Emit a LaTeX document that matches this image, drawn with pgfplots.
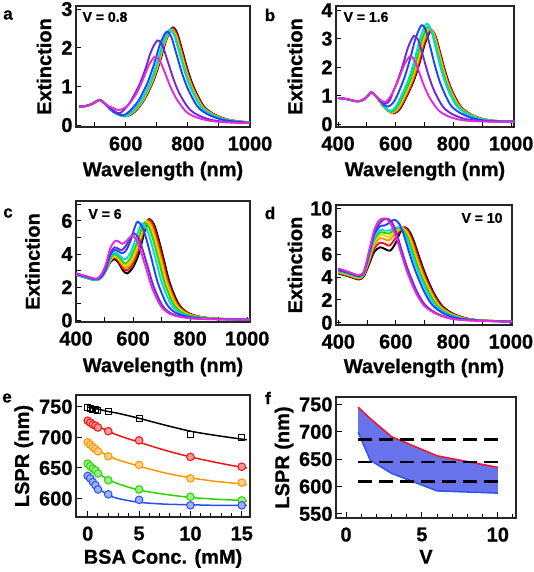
\documentclass[border=0pt]{standalone}
\usepackage{pgfplots}
\pgfplotsset{compat=1.18}
\usepackage{fontspec}
\setmainfont{Liberation Sans}[BoldFeatures={FakeBold=0.8}]

\definecolor{cK}{RGB}{0,0,0}
\definecolor{cR}{RGB}{240,20,20}
\definecolor{cO}{RGB}{255,150,0}
\definecolor{cY}{RGB}{235,215,0}
\definecolor{cG}{RGB}{40,215,0}
\definecolor{cC}{RGB}{0,215,235}
\definecolor{cB}{RGB}{30,70,245}
\definecolor{cV}{RGB}{110,40,225}
\definecolor{cM}{RGB}{225,45,215}
\definecolor{eB}{RGB}{40,80,240}
\definecolor{fillc}{RGB}{105,115,235}
\definecolor{fR}{RGB}{240,20,50}
\definecolor{fB}{RGB}{50,85,240}

\pgfplotsset{
 panel/.style={scale only axis, anchor=north west, tick pos=left, tick align=inside,
   axis line style={line width=1.4pt, black!85},
   tick style={line width=1pt, black},
   major tick length=5pt, minor tick length=5pt,
   tick label style={font=\bfseries\fontsize{20}{20}\selectfont},
   xticklabel style={yshift=-6pt},
   label style={font=\bfseries\fontsize{20}{20}\selectfont},
   xlabel style={anchor=center}, ylabel style={anchor=center},
   /pgf/number format/assume math mode=true,
   /pgf/number format/1000 sep={}},
 sp/.style={line width=1.9pt, smooth},
}

\begin{document}
\begin{tikzpicture}
\useasboundingbox (0,0) rectangle (534pt,-572pt);

% ---------------- a ----------------
\begin{axis}[panel, at={(76pt,-6pt)}, width=174pt, height=121pt,
 xmin=440, xmax=1000, ymin=-0.05, ymax=3.08,
 xtick={600,800,1000}, minor xtick={500,700,900}, ytick={0,1,2,3},
 xlabel={Wavelength (nm)}, ylabel={Extinction},
 xlabel style={at={(axis description cs:0.5,-0.364)}},
 ylabel style={at={(axis description cs:-0.184,0.5)}}]
\addplot[sp,cK] coordinates {(450,0.48)(470,0.49)(490,0.54)(505,0.61)(515,0.65)(525,0.61)(540,0.5)(560,0.34)(600,0.23)(630,0.35)(660,0.66)(690,1.16)(710,1.64)(730,2.19)(750,2.52)(765,2.39)(780,1.99)(800,1.41)(820,0.96)(850,0.50)(880,0.30)(920,0.16)(960,0.10)(1000,0.07)};
\addplot[sp,cR] coordinates {(450,0.48)(470,0.49)(490,0.54)(505,0.61)(515,0.65)(525,0.61)(540,0.5)(560,0.34)(598,0.23)(628,0.35)(658,0.65)(688,1.15)(708,1.63)(728,2.18)(748,2.50)(763,2.38)(778,1.98)(798,1.40)(818,0.95)(848,0.50)(878,0.30)(918,0.16)(958,0.10)(1000,0.07)};
\addplot[sp,cO] coordinates {(450,0.48)(470,0.49)(490,0.54)(505,0.61)(515,0.65)(525,0.61)(540,0.5)(560,0.34)(597,0.23)(626,0.35)(656,0.64)(686,1.14)(706,1.61)(726,2.15)(746,2.47)(761,2.35)(776,1.95)(796,1.38)(816,0.94)(846,0.49)(876,0.30)(916,0.16)(956,0.10)(1000,0.07)};
\addplot[sp,cY] coordinates {(450,0.48)(470,0.49)(490,0.54)(505,0.61)(515,0.65)(525,0.61)(540,0.5)(560,0.34)(596,0.23)(624,0.35)(654,0.64)(684,1.13)(704,1.59)(724,2.13)(744,2.45)(759,2.33)(774,1.94)(794,1.37)(814,0.93)(844,0.49)(874,0.29)(914,0.16)(954,0.10)(1000,0.06)};
\addplot[sp,cG] coordinates {(450,0.48)(470,0.49)(490,0.54)(505,0.61)(515,0.65)(525,0.61)(540,0.5)(560,0.34)(595,0.23)(622,0.35)(652,0.64)(682,1.13)(702,1.59)(722,2.13)(742,2.45)(757,2.33)(772,1.94)(792,1.37)(812,0.93)(842,0.49)(872,0.29)(912,0.16)(952,0.10)(1000,0.06)};
\addplot[sp,cC] coordinates {(450,0.48)(470,0.49)(490,0.54)(505,0.61)(515,0.65)(525,0.61)(540,0.5)(560,0.34)(594,0.23)(620,0.35)(650,0.64)(680,1.13)(700,1.6)(720,2.14)(740,2.46)(755,2.34)(770,1.94)(790,1.38)(810,0.93)(840,0.49)(870,0.29)(910,0.16)(950,0.10)(1000,0.06)};
\addplot[sp,cB] coordinates {(450,0.48)(470,0.49)(490,0.54)(505,0.61)(515,0.65)(525,0.61)(540,0.5)(560,0.35)(590,0.25)(611,0.35)(641,0.63)(671,1.11)(691,1.57)(711,2.10)(731,2.41)(746,2.29)(761,1.90)(781,1.35)(801,0.92)(831,0.48)(861,0.29)(901,0.16)(941,0.10)(1000,0.06)};
\addplot[sp,cV] coordinates {(450,0.48)(470,0.49)(490,0.54)(505,0.61)(515,0.65)(525,0.61)(540,0.5)(560,0.38)(582,0.31)(612,0.57)(642,1.01)(662,1.42)(682,1.91)(702,2.19)(717,2.08)(732,1.73)(752,1.23)(772,0.83)(802,0.44)(832,0.26)(872,0.14)(912,0.09)(952,0.07)(1000,0.05)};
\addplot[sp,cM] coordinates {(450,0.48)(470,0.49)(490,0.54)(505,0.61)(515,0.65)(525,0.61)(540,0.51)(560,0.44)(577,0.39)(604,0.48)(634,0.81)(654,1.15)(674,1.54)(694,1.77)(709,1.68)(724,1.40)(744,0.99)(764,0.67)(794,0.35)(824,0.21)(864,0.12)(904,0.08)(950,0.06)(1000,0.05)};
\end{axis}

% ---------------- b ----------------
\begin{axis}[panel, at={(336pt,-6pt)}, width=178pt, height=121pt,
 xmin=393, xmax=1010, ymin=-0.1, ymax=4.15,
 xtick={400,600,800,1000}, minor xtick={500,700,900}, ytick={0,1,2,3,4},
 xlabel={Wavelength (nm)}, ylabel={Extinction},
 xlabel style={at={(axis description cs:0.5,-0.364)}},
 ylabel style={at={(axis description cs:-0.23,0.5)}}]
\addplot[sp,cK] coordinates {(400,0.92)(430,0.88)(460,0.81)(480,0.82)(500,0.95)(515,1.12)(530,1.0)(550,0.72)(570,0.5)(592,0.38)(612,0.5)(632,0.85)(662,1.51)(682,2.13)(702,2.85)(722,3.28)(737,3.12)(752,2.59)(772,1.84)(792,1.25)(822,0.66)(852,0.39)(892,0.21)(932,0.13)(972,0.1)(1010,0.09)};
\addplot[sp,cR] coordinates {(400,0.92)(430,0.88)(460,0.81)(480,0.82)(500,0.95)(515,1.12)(530,1.0)(550,0.73)(570,0.5)(590,0.39)(610,0.51)(630,0.86)(660,1.52)(680,2.15)(700,2.87)(720,3.30)(735,3.14)(750,2.61)(770,1.85)(790,1.25)(820,0.66)(850,0.40)(890,0.21)(930,0.13)(970,0.1)(1010,0.09)};
\addplot[sp,cO] coordinates {(400,0.92)(430,0.88)(460,0.81)(480,0.82)(500,0.95)(515,1.12)(530,1.0)(550,0.73)(570,0.51)(588,0.40)(607,0.52)(627,0.87)(657,1.54)(677,2.18)(697,2.91)(717,3.35)(732,3.18)(747,2.65)(767,1.88)(787,1.27)(817,0.67)(847,0.40)(887,0.22)(927,0.13)(967,0.1)(1010,0.09)};
\addplot[sp,cY] coordinates {(400,0.92)(430,0.88)(460,0.81)(480,0.82)(500,0.95)(515,1.12)(530,1.0)(550,0.74)(570,0.52)(586,0.42)(604,0.53)(624,0.88)(654,1.55)(674,2.2)(694,2.94)(714,3.38)(729,3.21)(744,2.67)(764,1.89)(784,1.28)(814,0.68)(844,0.4)(884,0.22)(924,0.13)(964,0.1)(1010,0.09)};
\addplot[sp,cG] coordinates {(400,0.92)(430,0.88)(460,0.81)(480,0.82)(500,0.95)(515,1.12)(530,1.0)(550,0.75)(568,0.53)(585,0.43)(601,0.54)(621,0.89)(651,1.57)(671,2.22)(691,2.98)(711,3.42)(726,3.25)(741,2.70)(761,1.92)(781,1.30)(811,0.68)(841,0.41)(881,0.22)(921,0.13)(961,0.1)(1010,0.09)};
\addplot[sp,cC] coordinates {(400,0.92)(430,0.88)(460,0.81)(480,0.82)(500,0.95)(515,1.12)(530,1.0)(550,0.76)(566,0.56)(582,0.47)(597,0.57)(616,0.92)(646,1.62)(666,2.29)(686,3.06)(706,3.52)(721,3.34)(736,2.78)(756,1.97)(776,1.34)(806,0.70)(836,0.42)(876,0.23)(916,0.14)(956,0.1)(1010,0.09)};
\addplot[sp,cB] coordinates {(400,0.92)(430,0.88)(460,0.81)(480,0.82)(500,0.95)(515,1.12)(530,1.0)(550,0.78)(562,0.66)(575,0.62)(590,0.74)(604,0.98)(629,1.6)(649,2.26)(669,3.02)(689,3.47)(704,3.30)(719,2.74)(739,1.94)(759,1.32)(789,0.69)(819,0.42)(859,0.23)(899,0.14)(939,0.1)(1010,0.09)};
\addplot[sp,cV] coordinates {(400,0.92)(430,0.88)(460,0.81)(480,0.82)(500,0.95)(515,1.12)(530,1.0)(550,0.8)(566,0.72)(580,0.85)(590,1.12)(603,1.43)(623,2.02)(643,2.7)(663,3.1)(678,2.95)(693,2.45)(713,1.74)(733,1.18)(763,0.62)(793,0.37)(833,0.2)(873,0.13)(920,0.1)(1010,0.09)};
\addplot[sp,cM] coordinates {(400,0.92)(430,0.88)(460,0.81)(480,0.82)(500,0.95)(515,1.12)(530,1.0)(550,0.83)(563,0.78)(575,0.88)(589,1.1)(609,1.55)(629,2.07)(649,2.38)(664,2.26)(679,1.88)(699,1.33)(719,0.90)(749,0.48)(779,0.29)(819,0.16)(860,0.11)(920,0.09)(1010,0.08)};
\end{axis}

% ---------------- c ----------------
\begin{axis}[panel, at={(76pt,-201pt)}, width=174pt, height=121pt,
 xmin=400, xmax=1010, ymin=-0.1, ymax=7.2,
 xtick={400,600,800,1000}, minor xtick={500,700,900}, ytick={0,2,4,6}, minor ytick={1,3,5,7},
 xlabel={Wavelength (nm)}, ylabel={Extinction},
 xlabel style={at={(axis description cs:0.5,-0.372)}},
 ylabel style={at={(axis description cs:-0.25,0.5)}}]
\addplot[sp,cK] coordinates {(400,2.75)(420,2.65)(440,2.55)(460,2.45)(475,2.44)(490,2.6)(505,3.0)(520,3.5)(535,3.7)(550,3.45)(565,3.0)(580,2.83)(600,3.2)(620,4.0)(638,5.2)(648,5.8)(658,6.1)(673,5.8)(688,5.0)(708,3.66)(728,2.3)(758,1.04)(788,0.5)(828,0.24)(880,0.12)(940,0.07)(1010,0.05)};
\addplot[sp,cR] coordinates {(400,2.75)(420,2.65)(440,2.55)(460,2.45)(475,2.44)(490,2.6)(505,3.0)(520,3.55)(535,3.8)(550,3.55)(565,3.15)(578,3.0)(597,3.35)(616,4.1)(634,5.2)(644,5.8)(654,6.1)(669,5.8)(684,5.0)(704,3.66)(724,2.3)(754,1.04)(784,0.5)(824,0.24)(876,0.12)(940,0.07)(1010,0.05)};
\addplot[sp,cO] coordinates {(400,2.75)(420,2.65)(440,2.55)(460,2.45)(475,2.44)(490,2.6)(505,3.0)(520,3.6)(535,3.85)(550,3.65)(565,3.3)(576,3.15)(594,3.45)(612,4.15)(630,5.15)(640,5.7)(650,6.0)(665,5.7)(680,4.9)(700,3.6)(720,2.28)(750,1.02)(780,0.5)(820,0.24)(872,0.12)(940,0.07)(1010,0.05)};
\addplot[sp,cY] coordinates {(400,2.75)(420,2.65)(440,2.55)(460,2.45)(475,2.44)(490,2.6)(505,3.0)(520,3.62)(535,3.9)(550,3.72)(565,3.4)(575,3.28)(592,3.55)(609,4.2)(626,5.1)(636,5.65)(646,5.95)(661,5.65)(676,4.88)(696,3.57)(716,2.26)(746,1.01)(776,0.48)(816,0.24)(868,0.12)(940,0.07)(1010,0.05)};
\addplot[sp,cG] coordinates {(400,2.75)(420,2.65)(440,2.55)(460,2.45)(475,2.44)(490,2.6)(505,3.0)(520,3.7)(535,4.0)(550,3.82)(565,3.52)(574,3.42)(589,3.7)(605,4.3)(622,5.1)(631,5.6)(641,5.9)(656,5.6)(671,4.84)(691,3.54)(711,2.24)(741,1.0)(771,0.48)(811,0.24)(863,0.12)(940,0.07)(1010,0.05)};
\addplot[sp,cC] coordinates {(400,2.75)(420,2.65)(440,2.55)(460,2.45)(475,2.44)(490,2.6)(505,3.0)(520,3.8)(535,4.1)(550,3.95)(565,3.72)(575,3.7)(590,4.05)(605,4.7)(617,5.3)(624,5.65)(632,5.85)(647,5.55)(662,4.8)(682,3.5)(702,2.22)(732,1.0)(762,0.47)(802,0.23)(854,0.12)(930,0.07)(1010,0.05)};
\addplot[sp,cB] coordinates {(400,2.8)(420,2.7)(440,2.6)(460,2.5)(475,2.48)(490,2.65)(505,3.1)(520,3.95)(535,4.25)(550,4.15)(562,4.05)(575,4.2)(590,4.75)(602,5.4)(610,5.8)(617,5.95)(632,5.65)(647,4.88)(667,3.57)(687,2.26)(717,1.01)(747,0.48)(787,0.24)(839,0.12)(920,0.07)(1010,0.05)};
\addplot[sp,cV] coordinates {(400,2.82)(420,2.72)(440,2.62)(460,2.52)(475,2.5)(490,2.7)(505,3.2)(520,4.05)(535,4.4)(550,4.3)(562,4.25)(575,4.5)(590,4.95)(603,5.25)(618,5.0)(633,4.3)(653,3.15)(673,2.0)(703,0.89)(733,0.42)(773,0.21)(825,0.1)(900,0.06)(1010,0.04)};
\addplot[sp,cM] coordinates {(400,2.85)(420,2.75)(440,2.65)(460,2.55)(475,2.52)(490,2.8)(505,3.4)(520,4.35)(538,4.8)(552,4.72)(562,4.62)(575,4.75)(587,4.98)(597,5.1)(612,4.85)(627,4.18)(647,3.06)(667,1.94)(697,0.87)(727,0.41)(767,0.2)(820,0.1)(900,0.06)(1010,0.04)};
\end{axis}

% ---------------- d ----------------
\begin{axis}[panel, at={(336pt,-205pt)}, width=176pt, height=120pt,
 xmin=392, xmax=1004, ymin=-0.2, ymax=10.3,
 xtick={400,600,800,1000}, minor xtick={500,700,900}, ytick={0,2,4,6,8,10},
 xlabel={Wavelength (nm)}, ylabel={Extinction},
 xlabel style={at={(axis description cs:0.5,-0.358)}},
 ylabel style={at={(axis description cs:-0.233,0.5)}}]
\addplot[sp,cK] coordinates {(400,4.3)(430,4.1)(460,3.85)(475,3.8)(490,4.1)(510,5.3)(525,6.2)(545,6.6)(562,6.45)(580,6.3)(598,6.9)(615,7.9)(632,8.35)(647,8.0)(662,7.2)(682,5.7)(702,4.3)(732,2.6)(762,1.45)(802,0.75)(852,0.35)(900,0.2)(1005,0.1)};
\addplot[sp,cR] coordinates {(400,4.35)(430,4.15)(460,3.9)(475,3.85)(490,4.2)(510,5.5)(525,6.5)(545,7.0)(562,6.9)(578,6.75)(596,7.3)(612,8.0)(628,8.35)(643,8.0)(658,7.2)(678,5.7)(698,4.3)(728,2.6)(758,1.45)(798,0.75)(848,0.35)(900,0.2)(1005,0.1)};
\addplot[sp,cO] coordinates {(400,4.4)(430,4.2)(460,3.95)(475,3.9)(490,4.25)(510,5.7)(525,6.8)(545,7.4)(562,7.3)(576,7.2)(593,7.65)(609,8.05)(624,8.3)(639,7.95)(654,7.15)(674,5.65)(694,4.25)(724,2.6)(754,1.42)(794,0.75)(844,0.35)(900,0.2)(1005,0.1)};
\addplot[sp,cY] coordinates {(400,4.45)(430,4.25)(460,4.0)(475,3.95)(490,4.3)(510,5.85)(525,7.05)(545,7.7)(562,7.62)(575,7.5)(590,7.85)(605,8.15)(620,8.3)(635,7.95)(650,7.15)(670,5.65)(690,4.25)(720,2.6)(750,1.42)(790,0.75)(840,0.35)(900,0.19)(1005,0.1)};
\addplot[sp,cG] coordinates {(400,4.5)(430,4.3)(460,4.05)(475,4.0)(490,4.35)(510,6.0)(525,7.25)(545,7.9)(562,7.85)(575,7.8)(590,8.05)(603,8.25)(616,8.3)(631,7.95)(646,7.15)(666,5.65)(686,4.25)(716,2.6)(746,1.42)(786,0.75)(836,0.35)(900,0.18)(1005,0.1)};
\addplot[sp,cC] coordinates {(400,4.55)(430,4.35)(460,4.1)(475,4.05)(490,4.4)(510,6.1)(525,7.4)(545,8.1)(562,8.05)(575,8.05)(592,8.25)(610,8.35)(625,8.0)(640,7.2)(660,5.7)(680,4.3)(710,2.6)(740,1.45)(780,0.75)(830,0.35)(900,0.18)(1005,0.1)};
\addplot[sp,cB] coordinates {(400,4.6)(430,4.4)(460,4.15)(475,4.1)(490,4.45)(510,6.3)(525,7.7)(545,8.45)(560,8.5)(575,8.7)(588,8.95)(597,9.0)(612,8.65)(627,7.75)(647,6.1)(667,4.6)(697,2.8)(727,1.55)(767,0.8)(817,0.38)(900,0.18)(1005,0.1)};
\addplot[sp,cV] coordinates {(400,4.7)(430,4.45)(460,4.2)(475,4.15)(490,4.5)(510,6.4)(525,7.9)(545,8.75)(560,9.05)(572,9.1)(587,8.75)(602,7.85)(622,6.2)(642,4.65)(672,2.8)(702,1.55)(742,0.82)(792,0.38)(870,0.19)(1005,0.1)};
\addplot[sp,cM] coordinates {(400,4.75)(430,4.5)(460,4.22)(475,4.18)(490,4.55)(510,6.6)(525,8.1)(540,8.9)(555,9.12)(570,9.05)(585,8.5)(600,7.6)(620,5.95)(640,4.4)(670,2.6)(700,1.45)(740,0.78)(790,0.36)(860,0.19)(1005,0.1)};
\end{axis}

% ---------------- e ----------------
\begin{axis}[panel, at={(76pt,-395pt)}, width=174pt, height=122pt,
 xmin=-1.14, xmax=15.8, ymin=570, ymax=769,
 major tick length=6pt, minor tick length=4pt,
 xtick={0,5,10,15}, minor xtick={1,2,3,4,6,7,8,9,11,12,13,14}, ytick={600,650,700,750},
 xlabel={BSA Conc. (mM)}, ylabel={LSPR (nm)},
 xlabel style={at={(axis description cs:0.5,-0.34)}},
 ylabel style={at={(axis description cs:-0.30,0.5)}}]
\addplot[cK, line width=1.5pt, smooth] coordinates {(0,749)(1,746)(2,742)(3,739)(5,731)(7.5,720)(10,710)(12.5,703)(15,697)(15.5,696)};
\addplot[cR, line width=1.5pt, smooth] coordinates {(0,727)(1,718)(2,710)(3,703)(5,692)(7.5,679)(10,668)(12.5,659)(15,651)(15.5,650)};
\addplot[cO, line width=1.5pt, smooth] coordinates {(0,692)(1,679)(2,670)(3,663)(5,653)(7.5,642)(10,634)(12.5,628)(15,624)(15.5,623)};
\addplot[cG, line width=1.5pt, smooth] coordinates {(0,657)(1,642)(2,631)(3,624)(5,614)(7.5,607)(10,602)(12.5,599)(15,597)(15.5,596)};
\addplot[eB, line width=1.5pt, smooth] coordinates {(0,640)(0.5,626)(1,617)(2,606)(3,600)(5,594)(7.5,591)(10,590)(12.5,589)(15,589)(15.5,589)};
\addplot[only marks, mark=square, mark size=3pt, mark options={draw=cK, line width=1pt}] coordinates {(0,748)(0.25,747)(0.5,746)(0.75,745)(1,744)(2,742)(5,731)(10,704)(15,700)};
\addplot[only marks, mark=*, mark size=3.8pt, mark options={draw=cR, fill=cR!45, line width=1pt}] coordinates {(0,727)(0.25,724)(0.5,721)(0.75,719)(1,716)(2,710)(5,695)(10,668)(15,652)};
\addplot[only marks, mark=*, mark size=3.8pt, mark options={draw=cO, fill=cO!45, line width=1pt}] coordinates {(0,692)(0.25,688)(0.5,684)(0.75,681)(1,677)(2,669)(5,655)(10,633)(15,626)};
\addplot[only marks, mark=*, mark size=3.8pt, mark options={draw=cG, fill=cG!45, line width=1pt}] coordinates {(0,657)(0.25,653)(0.5,649)(0.75,646)(1,641)(2,630)(5,615)(10,603)(15,597)};
\addplot[only marks, mark=*, mark size=3.8pt, mark options={draw=eB, fill=eB!45, line width=1pt}] coordinates {(0,637)(0.25,633)(0.5,627)(0.75,622)(1,615)(2,607)(5,598)(10,589)(15,589)};
\end{axis}

% ---------------- f ----------------
\begin{axis}[panel, at={(336pt,-397pt)}, width=180pt, height=121pt,
 xmin=-0.66, xmax=11.2, ymin=542.4, ymax=763.6,
 major tick length=6pt, minor tick length=4pt,
 xtick={0,5,10}, minor xtick={1,2,3,4,6,7,8,9,11}, ytick={550,600,650,700,750},
 xlabel={V}, ylabel={LSPR (nm)},
 xlabel style={at={(axis description cs:0.5,-0.32)}},
 ylabel style={at={(axis description cs:-0.289,0.5)}}]
\addplot[fill=fillc, draw=none] coordinates {(0.8,745)(1.6,724)(3,691)(6,656)(10,635)(10,588)(6,592)(3,624)(1.6,648)(0.8,699)(0.8,745)};
\addplot[fR, line width=1.6pt] coordinates {(0.8,745)(1.6,724)(3,691)(6,656)(10,635)};
\addplot[fB, line width=1.6pt] coordinates {(0.8,699)(1.6,648)(3,624)(6,592)(10,588)};
\addplot[black, line width=2.3pt, dash pattern=on 14pt off 7pt] coordinates {(0.8,686)(10,686)};
\addplot[black, line width=2.3pt, dash pattern=on 14pt off 7pt] coordinates {(0.8,645)(10,645)};
\addplot[black, line width=2.3pt, dash pattern=on 14pt off 7pt] coordinates {(0.8,609)(10,609)};
\end{axis}

% panel letters and annotations
\begin{scope}[every node/.style={font=\bfseries\fontsize{17}{17}\selectfont}]
\node at (8pt,-15pt) {a};
\node at (270pt,-15pt) {b};
\node at (8pt,-213pt) {c};
\node at (270pt,-213pt) {d};
\node at (7pt,-398pt) {e};
\node at (268pt,-398pt) {f};
\end{scope}
\begin{scope}[every node/.style={font=\bfseries\fontsize{14}{14}\selectfont}]
\node at (105pt,-17pt) {V = 0.8};
\node at (366pt,-17pt) {V = 1.6};
\node at (105pt,-214pt) {V = 6};
\node at (482pt,-218pt) {V = 10};
\end{scope}
\end{tikzpicture}
\end{document}
